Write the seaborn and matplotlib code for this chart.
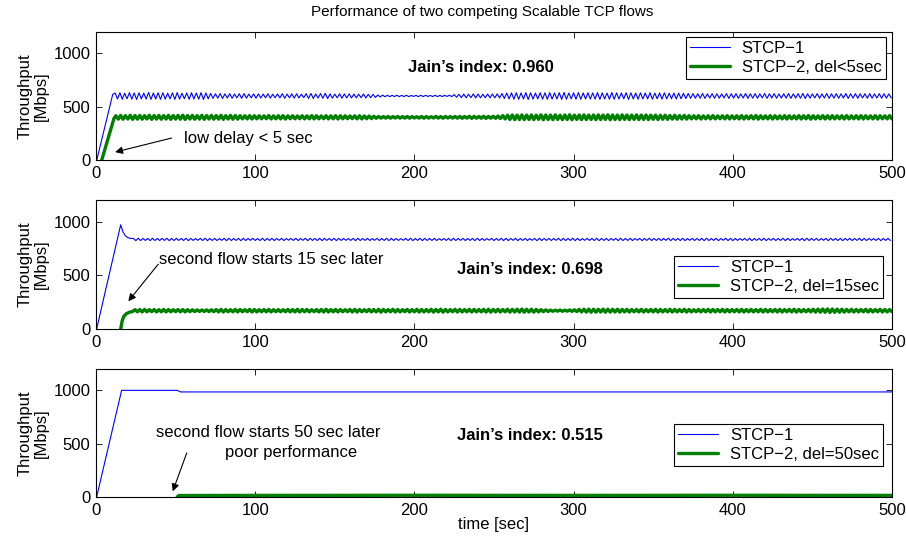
import numpy as np
import matplotlib
matplotlib.use("Agg")
import matplotlib.pyplot as plt
import seaborn as sns

# ---------------- data (throughput in Mbps, time in seconds) ----------------
# Panel 1: both flows start almost together (delay < 5 s)
p1_stcp1_ramp_t = [0.5, 10.5]
p1_stcp1_ramp_v = [0, 615]
p1_stcp1_start, p1_stcp1_step = 12.0, 1.5
p1_stcp1 = [
    628, 572, 631, 569, 626, 574, 632, 570, 629, 567, 630, 573, 627, 571, 633, 568, 628, 572, 630, 569,
    631, 570, 627, 573, 630, 568, 632, 571, 626, 574, 629, 569, 631, 572, 628, 570, 632, 567, 629, 573,
    624, 578, 621, 580, 623, 577, 620, 581, 622, 579, 619, 582, 621, 578, 623, 580, 618, 583, 620, 579,
    620, 581, 618, 583, 621, 580, 617, 584, 619, 582, 622, 579, 618, 583, 620, 580, 621, 582, 617, 584,
    622, 578, 624, 577, 619, 581, 623, 579, 625, 576, 620, 580, 618, 583, 621, 579, 619, 582, 620, 581,
    618, 583, 617, 584, 619, 582, 616, 585, 615, 586, 610, 591, 608, 593, 607, 594, 606, 595, 607, 594,
    606, 595, 607, 594, 605, 596, 606, 594, 607, 595, 606, 596, 605, 595, 607, 594, 606, 595, 606, 596,
    607, 594, 613, 588, 616, 585, 618, 583, 617, 584, 619, 582, 618, 583, 616, 585, 618, 583, 619, 582,
    620, 581, 624, 577, 628, 572, 630, 570, 631, 569, 629, 572, 632, 568, 630, 571, 628, 573, 631, 570,
    630, 569, 632, 571, 629, 572, 631, 568, 633, 570, 628, 573, 630, 570, 632, 569, 629, 572, 631, 571,
    629, 571, 632, 568, 630, 572, 628, 570, 633, 569, 630, 571, 629, 573, 631, 568, 630, 572, 628, 570,
    630, 572, 628, 573, 631, 570, 627, 574, 629, 571, 630, 573, 626, 575, 628, 572, 627, 574, 625, 576,
    624, 578, 622, 579, 621, 580, 623, 578, 620, 581, 622, 579, 621, 580, 619, 582, 622, 578, 621, 580,
    622, 579, 620, 581, 623, 578, 621, 580, 622, 579, 620, 582, 623, 578, 621, 581, 622, 579, 620, 580,
    621, 580, 623, 578, 620, 581, 622, 579, 624, 577, 621, 580, 619, 582, 622, 579, 620, 581, 623, 578,
    621, 580, 622, 579, 620, 581, 623, 578, 621, 580, 622, 579, 620, 582, 621, 579, 622, 580, 620, 581,
    622, 579, 621, 580, 620, 582,
]
p1_stcp2_ramp_t = [3.6, 11.3]
p1_stcp2_ramp_v = [0, 390]
p1_stcp2_start, p1_stcp2_step = 12.5, 1.5
p1_stcp2 = [
    415, 383, 418, 382, 416, 384, 419, 381, 417, 383, 418, 382, 416, 385, 419, 381, 417, 383, 418, 382,
    416, 384, 419, 381, 417, 383, 418, 382, 420, 380, 417, 384, 418, 382, 416, 383, 419, 381, 417, 384,
    418, 382, 417, 383, 419, 381, 416, 384, 418, 382, 417, 383, 416, 385, 415, 385, 416, 384, 415, 386,
    415, 386, 414, 387, 416, 385, 414, 386, 415, 385, 416, 384, 414, 387, 415, 386, 413, 387, 415, 385,
    414, 386, 416, 385, 415, 386, 413, 387, 415, 385, 414, 386, 416, 384, 415, 386, 414, 387, 413, 388,
    414, 386, 415, 385, 413, 387, 412, 388, 410, 391, 408, 393, 407, 393, 408, 392, 407, 394, 408, 393,
    407, 393, 408, 392, 407, 394, 406, 393, 408, 392, 407, 393, 406, 394, 408, 393, 407, 392, 408, 394,
    407, 393, 408, 392, 409, 391, 408, 393, 410, 390, 409, 392, 408, 391, 410, 390, 409, 392, 410, 391,
    412, 389, 416, 385, 420, 380, 422, 378, 421, 379, 423, 378, 421, 380, 422, 378, 420, 381, 423, 377,
    422, 379, 421, 378, 423, 380, 420, 378, 422, 379, 424, 377, 421, 380, 422, 378, 423, 379, 421, 380,
    422, 378, 423, 379, 421, 380, 424, 377, 422, 379, 421, 378, 423, 380, 422, 378, 421, 380, 423, 379,
    421, 380, 422, 378, 420, 381, 421, 379, 419, 382, 420, 381, 418, 383, 419, 382, 417, 384, 418, 383,
    416, 385, 415, 386, 416, 384, 414, 386, 415, 385, 416, 385, 414, 387, 415, 385, 416, 384, 414, 386,
    415, 385, 416, 384, 414, 386, 415, 385, 417, 383, 415, 386, 414, 385, 416, 384, 415, 386, 414, 385,
    416, 384, 415, 386, 414, 385, 416, 384, 415, 386, 417, 383, 415, 385, 414, 386, 416, 384, 415, 385,
    416, 385, 414, 386, 415, 384, 416, 385, 414, 386, 415, 385, 416, 384, 415, 386, 414, 385, 416, 384,
    415, 386, 414, 385, 416, 385,
]

# Panel 2: second flow starts 15 s later
p2_stcp1_ramp_t = [0.4, 15.5, 17.0, 18.5, 20.0, 22.0]
p2_stcp1_ramp_v = [0, 969, 900, 866, 850, 842]
p2_stcp1_start, p2_stcp1_step = 23.5, 1.5
p2_stcp1 = [
    843, 822, 844, 823, 842, 824, 843, 822, 844, 823, 842, 823, 843, 824, 844, 822, 842, 823, 843, 824,
    842, 823, 844, 822, 843, 824, 841, 825, 843, 823, 844, 822, 842, 824, 843, 823, 841, 825, 843, 822,
    844, 823, 842, 824, 843, 822, 844, 823, 842, 825, 843, 824, 841, 823, 844, 822, 842, 824, 843, 823,
    842, 825, 843, 823, 841, 826, 842, 824, 843, 823, 842, 825, 844, 822, 843, 824, 842, 823, 844, 822,
    843, 824, 842, 823, 844, 822, 843, 824, 842, 825, 841, 824, 843, 822, 844, 823, 842, 824, 843, 823,
    841, 825, 843, 823, 842, 824, 844, 822, 843, 823, 842, 824, 841, 825, 843, 823, 844, 822, 842, 824,
    843, 822, 844, 823, 842, 824, 843, 823, 841, 825, 842, 824, 843, 822, 844, 823, 842, 825, 843, 823,
    842, 824, 843, 822, 844, 823, 842, 824, 841, 826, 843, 823, 842, 824, 844, 822, 843, 823, 842, 825,
    844, 822, 842, 824, 843, 823, 841, 825, 843, 822, 844, 823, 842, 824, 843, 823, 842, 825, 844, 822,
    843, 823, 842, 824, 844, 822, 843, 823, 841, 825, 843, 824, 842, 823, 844, 822, 842, 824, 843, 823,
    842, 825, 843, 822, 844, 823, 842, 824, 843, 823, 841, 826, 843, 822, 842, 824, 844, 823, 842, 824,
    843, 823, 842, 825, 844, 822, 843, 824, 842, 823, 844, 822, 841, 825, 843, 823, 842, 824, 843, 822,
    844, 823, 842, 824, 843, 822, 842, 825, 844, 823, 843, 822, 842, 824, 841, 825, 843, 823, 844, 822,
    842, 824, 843, 823, 844, 822, 842, 825, 843, 823, 842, 824, 844, 822, 843, 823, 841, 825, 842, 824,
    843, 822, 844, 823, 842, 824, 843, 823, 841, 825, 843, 822, 844, 824, 842, 823, 843, 822, 842, 825,
    843, 823, 842, 824, 844, 822, 843, 823, 842, 825, 841, 824, 843, 822, 842, 824, 843, 823,
]
p2_stcp2_ramp_t = [15.5, 16.5, 17.5, 19.0, 21.0, 23.0]
p2_stcp2_ramp_v = [0, 80, 118, 142, 156, 163]
p2_stcp2_start, p2_stcp2_step = 24.5, 1.5
p2_stcp2 = [
    180, 160, 181, 159, 182, 160, 180, 161, 181, 159, 180, 160, 182, 159, 181, 160, 180, 161, 181, 160,
    181, 159, 180, 161, 179, 162, 178, 163, 177, 163, 178, 162, 179, 161, 181, 159, 182, 158, 181, 160,
    180, 160, 182, 159, 181, 160, 180, 161, 182, 158, 181, 159, 180, 160, 181, 160, 182, 159, 180, 161,
    181, 160, 180, 161, 182, 159, 181, 159, 183, 158, 181, 160, 182, 159, 180, 161, 181, 159, 182, 158,
    183, 158, 181, 160, 182, 159, 181, 160, 180, 161, 182, 158, 183, 158, 181, 160, 180, 161, 182, 159,
    181, 160, 183, 157, 182, 159, 181, 160, 183, 158, 182, 159, 180, 161, 182, 158, 181, 160, 183, 158,
    182, 159, 181, 160, 183, 157, 182, 159, 184, 157, 182, 159, 181, 160, 183, 158, 182, 159, 181, 160,
    183, 158, 182, 159, 181, 160, 183, 158, 184, 157, 182, 159, 183, 158, 181, 160, 184, 157, 183, 158,
    184, 157, 185, 156, 183, 158, 184, 157, 182, 159, 180, 161, 178, 163, 176, 165, 175, 166, 176, 165,
    175, 166, 177, 164, 179, 162, 182, 159, 184, 157, 185, 156, 184, 157, 183, 158, 185, 156, 184, 157,
    183, 158, 184, 157, 182, 159, 183, 158, 181, 160, 182, 159, 183, 158, 181, 160, 182, 159, 183, 158,
    182, 159, 181, 160, 183, 158, 182, 159, 181, 160, 183, 158, 182, 159, 180, 161, 182, 159, 181, 160,
    183, 158, 182, 159, 181, 160, 183, 158, 182, 159, 181, 160, 182, 159, 183, 158, 181, 160, 182, 159,
    181, 160, 183, 158, 182, 159, 181, 160, 182, 158, 183, 158, 181, 160, 182, 159, 183, 157, 182, 159,
    181, 160, 182, 159, 184, 157, 185, 156, 186, 155, 187, 154, 186, 155, 185, 156, 184, 157, 182, 159,
    183, 158, 182, 159, 181, 160, 183, 158, 182, 159, 181, 160, 183, 158, 182, 159, 181, 160,
]

# Panel 3: second flow starts 50 s later
p3_stcp1_t = [0.4, 16.1, 51.0, 53.0, 500.0]
p3_stcp1_v = [0, 1000, 1000, 985, 985]
p3_stcp2_t = [51.0, 52.0, 100.0, 200.0, 300.0, 400.0, 500.0]
p3_stcp2_v = [0, 14, 15, 16, 15, 16, 15]

jain_index = ["0.960", "0.698", "0.515"]
legend_stcp2 = ["STCP\u22122, del<5sec", "STCP\u22122, del=15sec", "STCP\u22122, del=50sec"]
x_ticks = [0, 100, 200, 300, 400, 500]
y_ticks = [0, 500, 1000]


def build(ramp_t, ramp_v, start, step, osc):
    t = np.concatenate([np.asarray(ramp_t, float), start + step * np.arange(len(osc))])
    v = np.concatenate([np.asarray(ramp_v, float), np.asarray(osc, float)])
    return t, v


panels = [
    (build(p1_stcp1_ramp_t, p1_stcp1_ramp_v, p1_stcp1_start, p1_stcp1_step, p1_stcp1),
     build(p1_stcp2_ramp_t, p1_stcp2_ramp_v, p1_stcp2_start, p1_stcp2_step, p1_stcp2)),
    (build(p2_stcp1_ramp_t, p2_stcp1_ramp_v, p2_stcp1_start, p2_stcp1_step, p2_stcp1),
     build(p2_stcp2_ramp_t, p2_stcp2_ramp_v, p2_stcp2_start, p2_stcp2_step, p2_stcp2)),
    ((np.array(p3_stcp1_t), np.array(p3_stcp1_v, float)),
     (np.array(p3_stcp2_t), np.array(p3_stcp2_v, float))),
]

# ---------------- styling ----------------
sns.set_theme(style="ticks")
plt.rcParams["font.family"] = ["Liberation Sans", "DejaVu Sans"]
plt.rcParams["axes.linewidth"] = 0.8
plt.rcParams["axes.edgecolor"] = "black"
plt.rcParams["text.color"] = "black"
plt.rcParams["axes.labelcolor"] = "black"
plt.rcParams["xtick.color"] = "black"
plt.rcParams["ytick.color"] = "black"

W, H = 906, 539
fig = plt.figure(figsize=(W / 100, H / 100), dpi=100)

# axes rectangles in pixels: left, top, right, bottom
rects = [(96, 32, 892, 160), (96, 200, 892, 329), (96, 369, 892, 497)]
legend_anchor = [(0.992, 0.961), (0.989, 0.566), (0.989, 0.570)]
jain_pos = [(196, 869), (227, 556), (227, 572)]

axes = []
for i, (l, t, r, b) in enumerate(rects):
    ax = fig.add_axes([l / W, 1 - b / H, (r - l) / W, (b - t) / H])
    (t1, v1), (t2, v2) = panels[i]
    sns.lineplot(x=t1, y=v1, ax=ax, color="#0000ff", linewidth=0.8,
                 label="STCP\u22121", sort=False, estimator=None)
    sns.lineplot(x=t2, y=v2, ax=ax, color="#008000", linewidth=2.4,
                 label=legend_stcp2[i], sort=False, estimator=None)
    ax.set_xlim(0, 500)
    ax.set_ylim(0, 1200)
    ax.set_xticks(x_ticks)
    ax.set_yticks(y_ticks)
    ax.set_xlabel("")
    ax.set_ylabel("")
    ax.tick_params(direction="in", top=True, right=True, length=4, width=0.6,
                   labelsize=12, colors="black", pad=4)
    for s in ax.spines.values():
        s.set_visible(True)
        s.set_color("black")
        s.set_linewidth(0.8)
    leg = ax.legend(loc="upper right", bbox_to_anchor=legend_anchor[i], fontsize=12,
                    frameon=True, fancybox=False, framealpha=1, edgecolor="black",
                    borderpad=0.25, labelspacing=0.22, handlelength=2.4,
                    handletextpad=0.7, borderaxespad=0)
    leg.get_frame().set_linewidth(0.8)
    for txt in leg.get_texts():
        txt.set_color("black")
    jx, jy = jain_pos[i]
    ax.text(jx, jy, "Jain\u2019s index: " + jain_index[i], fontsize=12,
            fontweight="bold", ha="left", va="center", color="black")
    fig.text(33 / W, 1 - ((t + b) / 2) / H, "Throughput\n[Mbps]", rotation=90,
             ha="center", va="center", fontsize=12, linespacing=1.1, color="black")
    axes.append(ax)

arrow = dict(arrowstyle="-|>", color="black", lw=0.8, mutation_scale=11,
             shrinkA=0, shrinkB=0)

axes[0].annotate("", xy=(12, 74), xytext=(47.5, 206), arrowprops=arrow)
axes[0].text(55.5, 200, "low delay < 5 sec", fontsize=12, ha="left", va="center")

axes[1].annotate("", xy=(20.3, 258), xytext=(39.1, 603), arrowprops=arrow)
axes[1].text(39.6, 650, "second flow starts 15 sec later", fontsize=12,
             ha="left", va="center")

axes[2].annotate("", xy=(48.2, 53), xytext=(57, 413), arrowprops=arrow)
axes[2].text(37.7, 607, "second flow starts 50 sec later", fontsize=12,
             ha="left", va="center")
axes[2].text(81, 419, "poor performance", fontsize=12, ha="left", va="center")

fig.text(482 / W, 1 - 12 / H, "Performance of two competing Scalable TCP flows",
         ha="center", va="center", fontsize=11)
fig.text(494 / W, 1 - 524 / H, "time [sec]", ha="center", va="center", fontsize=12)

fig.savefig("out.png", dpi=100)
